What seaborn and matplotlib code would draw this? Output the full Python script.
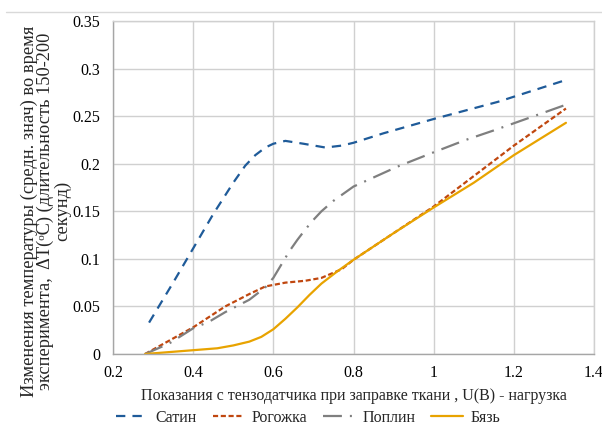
import matplotlib
matplotlib.use("Agg")
import matplotlib.pyplot as plt
from matplotlib.lines import Line2D
from matplotlib.ticker import FuncFormatter
import seaborn as sns
import pandas as pd

# ---- data ----
satin_x = [0.29, 0.35, 0.40, 0.45, 0.50, 0.53, 0.555, 0.58, 0.60, 0.63, 0.675, 0.73, 0.77, 0.80, 0.875, 1.00, 1.16, 1.33]
satin_y = [0.033, 0.075, 0.111, 0.147, 0.180, 0.198, 0.209, 0.217, 0.221, 0.224, 0.221, 0.217, 0.219, 0.222, 0.232, 0.247, 0.265, 0.288]

rogozhka_x = [0.28, 0.34, 0.40, 0.48, 0.54, 0.58, 0.63, 0.68, 0.72, 0.77, 0.80, 0.90, 1.00, 1.10, 1.20, 1.33]
rogozhka_y = [0.0, 0.014, 0.028, 0.050, 0.063, 0.071, 0.075, 0.077, 0.080, 0.089, 0.099, 0.127, 0.155, 0.187, 0.219, 0.258]

poplin_x = [0.28, 0.34, 0.40, 0.44, 0.48, 0.54, 0.58, 0.60, 0.62, 0.64, 0.66, 0.68, 0.70, 0.72, 0.75, 0.80, 0.91, 1.00, 1.08, 1.15, 1.33]
poplin_y = [0.0, 0.011, 0.027, 0.034, 0.044, 0.057, 0.070, 0.080, 0.094, 0.108, 0.120, 0.131, 0.141, 0.150, 0.161, 0.176, 0.197, 0.212, 0.225, 0.235, 0.262]

byaz_x = [0.28, 0.34, 0.40, 0.46, 0.50, 0.54, 0.57, 0.60, 0.63, 0.66, 0.69, 0.72, 0.76, 0.80, 0.90, 1.00, 1.10, 1.20, 1.33]
byaz_y = [0.0, 0.002, 0.004, 0.006, 0.009, 0.013, 0.018, 0.026, 0.037, 0.049, 0.062, 0.074, 0.087, 0.099, 0.127, 0.154, 0.180, 0.209, 0.243]

series_names = ["Сатин", "Рогожка", "Поплин", "Бязь"]
x_ticks = [0.2, 0.4, 0.6, 0.8, 1.0, 1.2, 1.4]
y_ticks = [0, 0.05, 0.1, 0.15, 0.2, 0.25, 0.3, 0.35]

x_label = "Показания с тензодатчика при заправке ткани , U(B) - нагрузка"
y_label = ("Изменения температуры (средн. знач) во время\n"
           "эксперимента,  ΔT(ᵒC) (длительность 150-200\n"
           "секунд)")

# ---- styling ----
sns.set_theme(style="white")
plt.rcParams["font.family"] = ["Liberation Serif", "DejaVu Serif"]
plt.rcParams["font.size"] = 11.5

colors = ["#1F5B99", "#C0470F", "#7F7F7F", "#E8A300"]
lw = 1.6
styles = [(0, (4.2, 3.2)), (0, (2.3, 1.2)), (0, (8.5, 3.6, 0.9, 3.6)), "-"]

fig = plt.figure(figsize=(6.02, 4.30), dpi=100)
ax = fig.add_axes([113 / 602, 1 - 354 / 430, (594 - 113) / 602, (354 - 21) / 430])

all_series = [(satin_x, satin_y), (rogozhka_x, rogozhka_y), (poplin_x, poplin_y), (byaz_x, byaz_y)]
for (xs, ys), name, c, ls in zip(all_series, series_names, colors, styles):
    df = pd.DataFrame({"x": xs, "y": ys})
    sns.lineplot(data=df, x="x", y="y", ax=ax, color=c, linewidth=lw,
                 linestyle=ls, estimator=None, label=name, legend=False)

ax.set_xlim(x_ticks[0], x_ticks[-1])
ax.set_ylim(y_ticks[0], y_ticks[-1])
ax.set_xticks(x_ticks)
ax.set_yticks(y_ticks)
fmt = FuncFormatter(lambda v, p: ("%.2f" % v).rstrip("0").rstrip(".") if abs(v) > 1e-9 else "0")
ax.xaxis.set_major_formatter(fmt)
ax.yaxis.set_major_formatter(fmt)
ax.tick_params(axis="both", length=0, labelsize=11.5, colors="#000000")
ax.tick_params(axis="x", pad=8)
ax.tick_params(axis="y", pad=9)

ax.grid(True, color="#D0D0D0", linewidth=1.0)
ax.set_axisbelow(True)
for s in ["top", "right"]:
    ax.spines[s].set_color("#D0D0D0")
    ax.spines[s].set_linewidth(1.0)
for s in ["left", "bottom"]:
    ax.spines[s].set_color("#A6A6A6")
    ax.spines[s].set_linewidth(1.0)

ax.set_xlabel(x_label, fontsize=11.5, labelpad=5)
ax.set_ylabel(y_label, fontsize=13.2, linespacing=0.95)
ax.yaxis.set_label_coords((71 - 113) / 481, (354 - 211) / 333)

handles, labels = ax.get_legend_handles_labels()
fig.legend(handles, labels, loc="center", bbox_to_anchor=(0.512, 1 - 418 / 430),
           ncol=4, frameon=False, fontsize=11.5, handlelength=2.0,
           handletextpad=0.45, columnspacing=1.0)

fig.add_artist(Line2D([6 / 602, 1.0], [1 - 12 / 430, 1 - 12 / 430], color="#D9D9D9", linewidth=1.0))

fig.savefig("out.png", dpi=100)
